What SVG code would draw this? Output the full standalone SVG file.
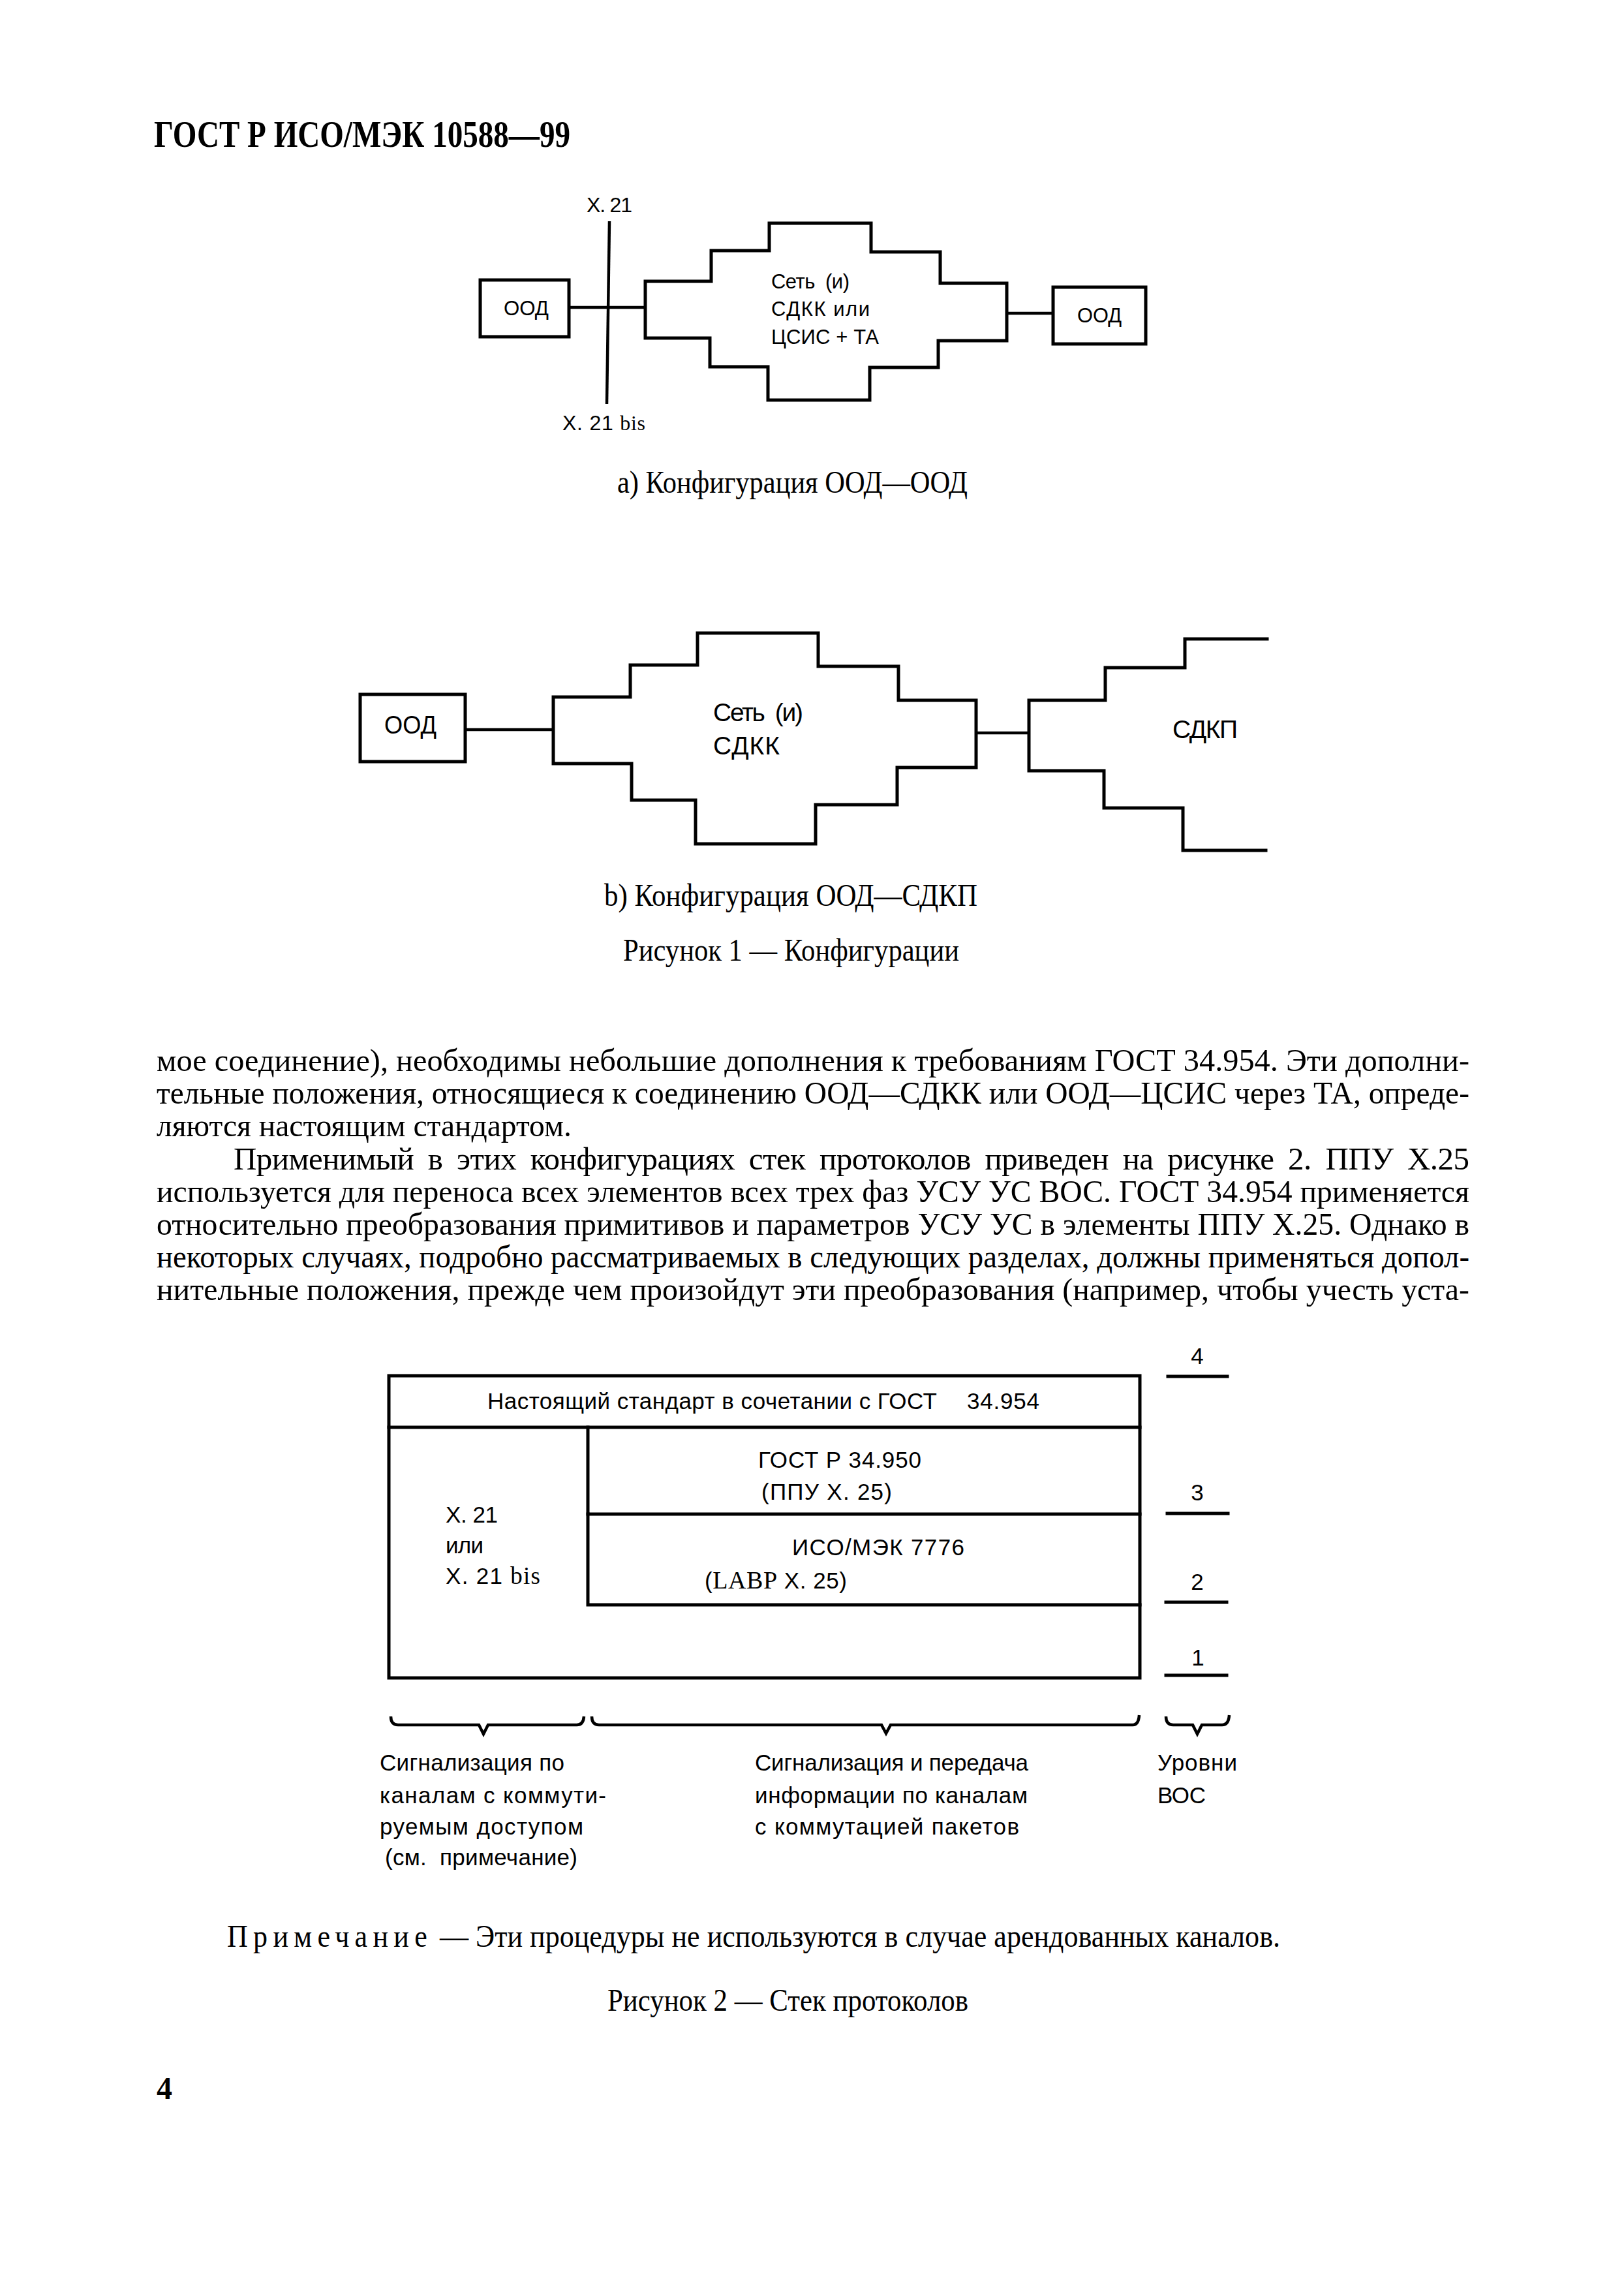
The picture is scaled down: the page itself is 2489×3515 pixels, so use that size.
<svg xmlns="http://www.w3.org/2000/svg" width="2489" height="3515" viewBox="0 0 2489 3515">
<style>
.bg{fill:#fff}
.ln{fill:none;stroke:#000;stroke-width:5;stroke-linejoin:miter;stroke-linecap:square}
.cn{fill:none;stroke:#000;stroke-width:4.5}
.sans{font-family:"Liberation Sans",Arial,sans-serif;fill:#000}
.serif{font-family:"Liberation Serif","Times New Roman",serif;fill:#000}
.body{font-family:"Liberation Serif","Times New Roman",serif;font-size:49px;fill:#000}
.cap{font-family:"Liberation Serif","Times New Roman",serif;font-size:48px;fill:#000}
.s29{font-size:32px}
.s28{font-size:31px}
.s35{font-size:39px}
.s31{font-size:35px}
.mid{text-anchor:middle}
</style>
<rect class="bg" x="0" y="0" width="2489" height="3515"/>

<text class="serif" x="236" y="225" font-size="57" font-weight="bold" textLength="638" lengthAdjust="spacingAndGlyphs">ГОСТ Р ИСО/МЭК 10588—99</text>

<!-- Figure 1a -->
<g id="fig1a">
  <g id="a_ood_left">
    <rect class="ln" x="736" y="429" width="136" height="87"/>
    <text class="sans s29" x="772" y="483" textLength="69" lengthAdjust="spacingAndGlyphs">ООД</text>
  </g>
  <g id="a_x21">
    <text class="sans s29" x="899" y="325" textLength="70">X. 21</text>
    <text class="sans s29" x="862" y="659" textLength="127">X. 21 <tspan class="serif">bis</tspan></text>
  </g>
  <g id="a_network">
    <path class="ln" d="M989,431 H1090 V384 H1179 V342 H1335 V386 H1441 V434 H1543 V522 H1438 V563 H1333 V613 H1177 V562 H1088 V518 H989 Z"/>
    <text class="sans s28" x="1182" y="442" textLength="120" xml:space="preserve">Сеть  (и)</text>
    <text class="sans s28" x="1182" y="484" textLength="151">СДКК или</text>
    <text class="sans s28" x="1182" y="527" textLength="165">ЦСИС + ТА</text>
  </g>
  <g id="a_ood_right">
    <rect class="ln" x="1614" y="440" width="142" height="87"/>
    <text class="sans s29" x="1651" y="494" textLength="68" lengthAdjust="spacingAndGlyphs">ООД</text>
  </g>
  <g id="a_connectors">
    <line class="cn" x1="934" y1="339" x2="930" y2="619"/>
    <line class="cn" x1="872" y1="471" x2="989" y2="471"/>
    <line class="cn" x1="1543" y1="480" x2="1614" y2="480"/>
  </g>
  <text class="cap" x="946" y="755" textLength="537" lengthAdjust="spacingAndGlyphs">а) Конфигурация ООД—ООД</text>
</g>

<!-- Figure 1b -->
<g id="fig1b">
  <g id="b_ood">
    <rect class="ln" x="552" y="1064" width="161" height="103"/>
    <text class="sans s35" x="589" y="1124" textLength="80" lengthAdjust="spacingAndGlyphs">ООД</text>
  </g>
  <g id="b_network">
    <path class="ln" d="M848,1068 H966 V1019 H1069 V970 H1254 V1021 H1377 V1073 H1496 V1176 H1375 V1233 H1250 V1293 H1066 V1226 H968 V1170 H848 Z"/>
    <text class="sans s35" x="1093" y="1105" textLength="138" xml:space="preserve">Сеть  (и)</text>
    <text class="sans s35" x="1093" y="1156" textLength="102">СДКК</text>
  </g>
  <g id="b_sdkp">
    <path class="ln" d="M1942,979 H1816 V1023 H1694 V1073 H1577 V1181 H1692 V1238 H1813 V1303 H1940"/>
    <text class="sans s35" x="1797" y="1131" textLength="100">СДКП</text>
  </g>
  <g id="b_connectors">
    <line class="cn" x1="713" y1="1118" x2="848" y2="1118"/>
    <line class="cn" x1="1496" y1="1123" x2="1577" y2="1123"/>
  </g>
  <text class="cap" x="926" y="1388" textLength="572" lengthAdjust="spacingAndGlyphs">b) Конфигурация ООД—СДКП</text>
  <text class="cap" x="955" y="1472" textLength="515" lengthAdjust="spacingAndGlyphs">Рисунок 1 — Конфигурации</text>
</g>

<!-- Body text -->
<g id="bodytext">
  <text class="body" x="240" y="1641" textLength="2012" lengthAdjust="spacingAndGlyphs">мое соединение), необходимы небольшие дополнения к требованиям ГОСТ 34.954. Эти дополни-</text>
  <text class="body" x="240" y="1691" textLength="2012" lengthAdjust="spacingAndGlyphs">тельные положения, относящиеся к соединению ООД—СДКК или ООД—ЦСИС через ТА, опреде-</text>
  <text class="body" x="240" y="1741" textLength="636" lengthAdjust="spacingAndGlyphs">ляются настоящим стандартом.</text>
  <text class="body" x="358" y="1792" textLength="1894" word-spacing="10">Применимый в этих конфигурациях стек протоколов приведен на рисунке 2. ППУ Х.25</text>
  <text class="body" x="240" y="1842" textLength="2012" lengthAdjust="spacingAndGlyphs">используется для переноса всех элементов всех трех фаз УСУ УС ВОС. ГОСТ 34.954 применяется</text>
  <text class="body" x="240" y="1892" textLength="2012" lengthAdjust="spacingAndGlyphs">относительно преобразования примитивов и параметров УСУ УС в элементы ППУ Х.25. Однако в</text>
  <text class="body" x="240" y="1942" textLength="2012" lengthAdjust="spacingAndGlyphs">некоторых случаях, подробно рассматриваемых в следующих разделах, должны применяться допол-</text>
  <text class="body" x="240" y="1992" textLength="2012" lengthAdjust="spacingAndGlyphs">нительные положения, прежде чем произойдут эти преобразования (например, чтобы учесть уста-</text>
</g>

<!-- Figure 2 -->
<g id="fig2">
  <g id="t_frame">
    <rect class="ln" x="596" y="2108" width="1151" height="463"/>
    <line class="ln" x1="596" y1="2187" x2="1747" y2="2187"/>
  </g>
  <g id="t_row4">
    <text class="sans s31" x="747" y="2159" textLength="689">Настоящий стандарт в сочетании с ГОСТ</text>
    <text class="sans s31" x="1482" y="2159" textLength="111">34.954</text>
  </g>
  <g id="t_x21">
    <text class="sans s31" x="683" y="2333" textLength="80">X. 21</text>
    <text class="sans s31" x="683" y="2380" textLength="58">или</text>
    <text class="sans s31" x="683" y="2427" textLength="145">X. 21 <tspan class="serif" font-size="37">bis</tspan></text>
  </g>
  <g id="t_ppu">
    <path class="ln" d="M1747,2320 H901 V2187"/>
    <text class="sans s31" x="1162" y="2249" textLength="250">ГОСТ Р 34.950</text>
    <text class="sans s31" x="1167" y="2298" textLength="200">(ППУ X. 25)</text>
  </g>
  <g id="t_labp">
    <path class="ln" d="M901,2320 V2459 H1747"/>
    <text class="sans s31" x="1214" y="2383" textLength="264">ИСО/МЭК 7776</text>
    <text class="sans s31" x="1080" y="2434" textLength="218">(<tspan class="serif" font-size="38">LABP</tspan> X. 25)</text>
  </g>
  <g id="levels">
    <text class="sans s31 mid" x="1835" y="2090">4</text>
    <line class="ln" x1="1790" y1="2109" x2="1881" y2="2109"/>
    <text class="sans s31 mid" x="1835" y="2299">3</text>
    <line class="ln" x1="1789" y1="2319" x2="1882" y2="2319"/>
    <text class="sans s31 mid" x="1835" y="2436">2</text>
    <line class="ln" x1="1787" y1="2455" x2="1880" y2="2455"/>
    <text class="sans s31 mid" x="1836" y="2552">1</text>
    <line class="ln" x1="1787" y1="2567" x2="1880" y2="2567"/>
  </g>
  <g id="braces">
    <path class="cn" d="M599,2630 Q599,2643 610,2643 H734 L741,2657 L748,2643 H884 Q894,2643 895,2630"/>
    <path class="cn" d="M907,2630 Q907,2643 918,2643 H1351 L1358,2656 L1365,2643 H1736 Q1745,2643 1746,2628"/>
    <path class="cn" d="M1787,2630 Q1787,2643 1798,2643 H1828 L1835,2657 L1842,2643 H1873 Q1883,2643 1884,2628"/>
  </g>
  <g id="labels">
    <text class="sans s31" x="582" y="2713" textLength="283">Сигнализация по</text>
    <text class="sans s31" x="582" y="2763" textLength="347">каналам с коммути-</text>
    <text class="sans s31" x="582" y="2811" textLength="312">руемым доступом</text>
    <text class="sans s31" x="590" y="2858" textLength="295" xml:space="preserve">(см.  примечание)</text>
    <text class="sans s31" x="1157" y="2713" textLength="419">Сигнализация и передача</text>
    <text class="sans s31" x="1157" y="2763" textLength="418">информации по каналам</text>
    <text class="sans s31" x="1157" y="2811" textLength="405">с коммутацией пакетов</text>
    <text class="sans s31" x="1774" y="2713" textLength="122">Уровни</text>
    <text class="sans s31" x="1774" y="2763" textLength="74">ВОС</text>
  </g>
  <text class="cap" x="348" y="2983" textLength="1614" lengthAdjust="spacingAndGlyphs"><tspan letter-spacing="9">Примечание</tspan> — Эти процедуры не используются в случае арендованных каналов.</text>
  <text class="cap" x="931" y="3081" textLength="553" lengthAdjust="spacingAndGlyphs">Рисунок 2 — Стек протоколов</text>
</g>

<text class="serif" x="240" y="3216" font-size="48" font-weight="bold">4</text>
</svg>
